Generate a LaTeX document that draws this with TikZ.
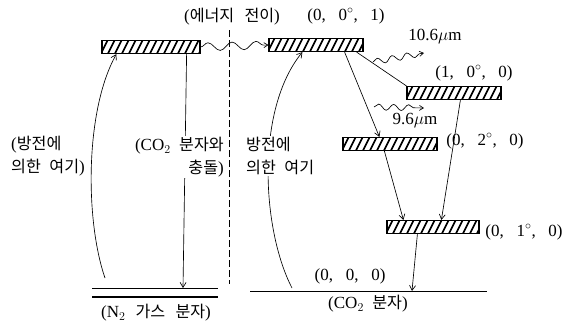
\documentclass[tikz,border=0pt]{standalone}
\usepackage{fontspec}
\setmainfont{Liberation Serif}
\newfontfamily\kr[Scale=0.95]{Noto Sans CJK KR}
\usetikzlibrary{arrows.meta,decorations.pathmorphing,calc}
\newcommand{\K}[1]{{\kr #1}}
\newcommand{\gp}{\hspace{0.75em}}
\begin{document}
\begin{tikzpicture}[x=1pt,y=-1pt,
  bar/.style={draw, line width=1.2pt, inner sep=0pt, minimum height=13pt, minimum width=94pt,
    path picture={\foreach \k in {0,...,16}{\draw[line width=1.6pt] ([xshift=\k*7pt-8pt]path picture bounding box.south west) -- ++(7pt,14pt);}}},
  lbl/.style={font=\fontsize{17}{23}\selectfont, inner sep=1pt},
  ln/.style={line width=0.65pt},
  arr/.style={ln, -{Straight Barb[length=5pt,width=6pt]}},
  wavebig/.style={ln, -{Straight Barb[length=4pt,width=5pt]}, decorate, decoration={snake, amplitude=4pt, segment length=24pt, post length=4pt}},
  wavesmall/.style={ln, -{Straight Barb[length=4pt,width=5pt]}, decorate, decoration={snake, amplitude=3pt, segment length=15pt, post length=4pt}},
]
\useasboundingbox (0,0) rectangle (579,327);

% energy levels
\node[bar, minimum width=98pt] (n2) at (151,47) {};
\node[bar] (co1) at (316,45) {};
\node[bar] (b100) at (454,93) {};
\node[bar] (b020) at (390,144) {};
\node[bar, minimum width=92pt] (b010) at (433,227) {};

% ground levels
\coordinate (n2a) at (92,288);
\coordinate (n2b) at (218,288);
\coordinate (n2c) at (92,297);
\coordinate (n2d) at (218,297);
\draw[line width=0.9pt] (n2a) -- (n2b);
\draw[line width=1.1pt] (n2c) -- (n2d);
\coordinate (gA) at (250,291);
\coordinate (gB) at (487,291);
\draw[line width=0.8pt] (gA) -- (gB);

% dashed separator
\coordinate (dA) at (229,30);
\coordinate (dB) at (229,284);
\draw[line width=0.8pt, dash pattern=on 7pt off 3pt] (dA) -- (dB);

% connectors
\coordinate (exlS) at (105,278);
\draw[arr] (exlS) .. controls (85,220) and (85,110) .. ([xshift=15pt]n2.south west);
\coordinate (collE) at (183,288);
\draw[arr] ([xshift=-14pt]n2.south east) -- (collE);
\draw[wavebig] (n2.east) -- (co1.west);
\coordinate (exrS) at (292,288);
\draw[arr] (exrS) .. controls (262,230) and (255,110) .. ([xshift=34pt]co1.south west);
\draw[ln] ([xshift=-7pt]co1.south east) -- (b100.north west);
\draw[arr] ([xshift=-19pt]co1.south east) -- ([xshift=37pt]b020.north west);
\draw[arr] ([xshift=54pt]b100.south west) -- ([xshift=55pt]b010.north west);
\draw[arr] ([xshift=42pt]b020.south west) -- ([xshift=17pt]b010.north west);
\coordinate (gE) at (412,291);
\draw[arr] ([xshift=31pt]b010.south west) -- (gE);
\coordinate (w1a) at (373,62);
\coordinate (w1b) at (424,53);
\draw[wavesmall] (w1a) -- (w1b);
\coordinate (w2a) at (374,107);
\coordinate (w2b) at (424,108);
\draw[wavesmall] (w2a) -- (w2b);

% labels
\node[lbl] (tr) at (232,17) {(\K{에너지}\hspace{0.6em}\K{전이})};
\node[lbl] (l001) at (346,16) {(0,\gp0$^\circ$,\gp1)};
\node[lbl] (l106) at (435,37) {10.6$\mu$m};
\node[lbl] (l100) at (474,73) {(1,\gp0$^\circ$,\gp0)};
\node[lbl] (l96) at (415,121) {9.6$\mu$m};
\node[lbl] (l020) at (485,141) {(0,\gp2$^\circ$,\gp0)};
\node[lbl] (l010) at (524,232) {(0,\gp1$^\circ$,\gp0)};
\node[lbl] (l000) at (350,276) {(0,\gp0,\gp0)};
\node[lbl] (lco2) at (368,304) {(CO$_2$\hspace{0.5em}\K{분자})};
\node[lbl] (ln2) at (156,313) {(N$_2$\hspace{0.6em}\K{가스}\hspace{0.6em}\K{분자})};
\node[lbl, align=left, anchor=north west] (exl) at (10,135) {(\K{방전에}\\\K{의한}\hspace{0.5em}\K{여기})};
\node[lbl, align=right, anchor=north east, fill=white] (coll) at (225,136) {(CO$_2$\hspace{0.5em}\K{분자와}\\\K{충돌})};
\node[lbl, align=left, anchor=north west, fill=white] (exr) at (245,136) {\K{방전에}\\\K{의한}\hspace{0.5em}\K{여기}};
\end{tikzpicture}
\end{document}
